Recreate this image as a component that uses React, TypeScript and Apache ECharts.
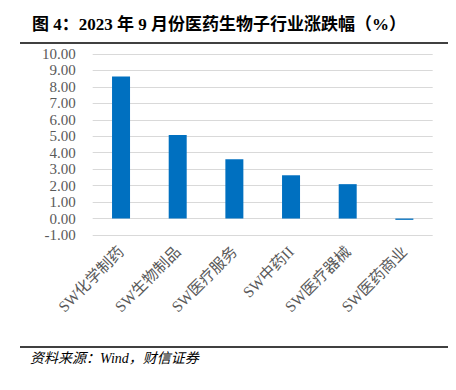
import React, { useEffect, useRef } from "react";
import * as echarts from "echarts";

const categories = ["SW化学制药", "SW生物制品", "SW医疗服务", "SW中药II", "SW医疗器械", "SW医药商业"];
const values = [8.63, 5.07, 3.61, 2.63, 2.09, -0.08];
const yMin = -1;
const yMax = 10;
const yInterval = 1;
const titleText = "图 4：2023 年 9 月份医药生物子行业涨跌幅（%）";
const sourceText = "资料来源：Wind，财信证券";

export default function App() {
  const ref = useRef<HTMLDivElement>(null);
  useEffect(() => {
    if (!ref.current) return;
    const chart = echarts.init(ref.current, null, { renderer: "svg" });
    const serif = "'Liberation Serif', 'Noto Sans CJK SC', serif";
    chart.setOption({
      animation: false,
      backgroundColor: "#ffffff",
      title: {
        text: titleText,
        left: 27,
        top: 11,
        textStyle: { fontFamily: serif, fontSize: 17, fontWeight: "bold", color: "#000000" },
      },
      graphic: [
        { type: "line", shape: { x1: 20, y1: 43, x2: 448, y2: 43 }, style: { stroke: "#000", lineWidth: 1.5 } },
        { type: "line", shape: { x1: 20, y1: 347, x2: 448, y2: 347 }, style: { stroke: "#000", lineWidth: 1.5 } },
        {
          type: "text",
          left: 30,
          top: 351,
          style: { text: sourceText, font: `italic 14px ${serif}`, fill: "#000" },
        },
      ],
      grid: { left: 92.7, right: 23.3, top: 54, bottom: 155, containLabel: false },
      xAxis: {
        type: "category",
        data: categories,
        axisLine: { show: false },
        axisTick: { show: false },
        axisLabel: {
          rotate: 45,
          interval: 0,
          margin: 14,
          fontFamily: serif,
          fontSize: 15.5,
          color: "#595959",
        },
      },
      yAxis: {
        type: "value",
        min: yMin,
        max: yMax,
        interval: yInterval,
        axisLine: { show: false },
        axisTick: { show: false },
        axisLabel: {
          formatter: (v: number) => v.toFixed(2),
          fontFamily: serif,
          fontSize: 15,
          color: "#595959",
          margin: 17,
        },
        splitLine: { lineStyle: { color: "#d9d9d9", width: 1 } },
      },
      series: [
        {
          type: "bar",
          data: values,
          barWidth: 18,
          itemStyle: { color: "#0070C0" },
        },
      ],
    });
    return () => chart.dispose();
  }, []);
  return <div ref={ref} style={{ position: "fixed", left: 0, top: 0, width: 456, height: 390 }} />;
}
